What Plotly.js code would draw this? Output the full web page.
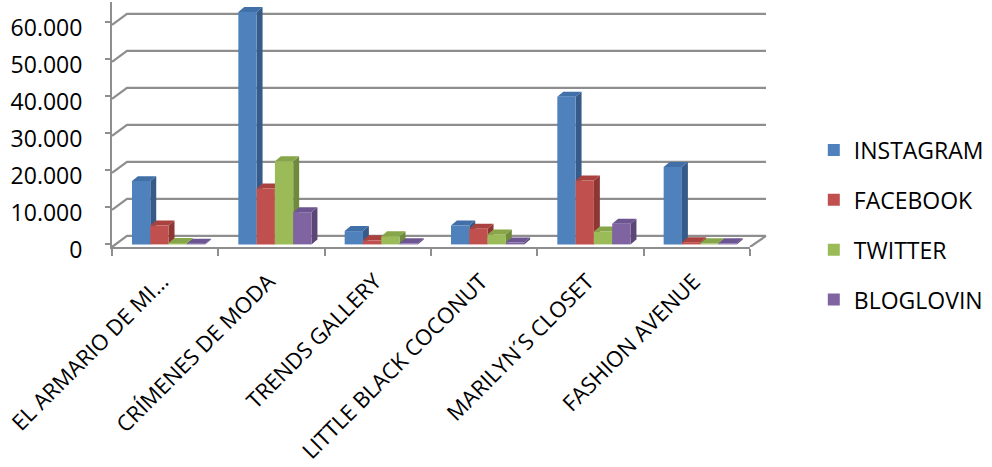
<!DOCTYPE html>
<html>
<head>
<meta charset="utf-8">
<script src="https://cdn.plot.ly/plotly-3.0.1.min.js"></script>
<style>html,body{margin:0;padding:0;background:#fff;}#chart{width:992px;height:467px;}</style>
</head>
<body>
<div id="chart"></div>
<script>
// ---- data ----
const categories = ["EL ARMARIO DE MI...", "CRÍMENES DE MODA", "TRENDS GALLERY", "LITTLE BLACK COCONUT", "MARILYN´S CLOSET", "FASHION AVENUE"];
const instagram = [17100, 62800, 3600, 5100, 39900, 20900];
const facebook  = [5100, 15100, 1100, 4200, 17300, 600];
const twitter   = [400, 22500, 2200, 2700, 3500, 300];
const bloglovin = [200, 8700, 300, 500, 5600, 300];
const seriesNames = ["INSTAGRAM", "FACEBOOK", "TWITTER", "BLOGLOVIN"];
const yTickVals = [0, 10000, 20000, 30000, 40000, 50000, 60000];

// ---- styles ----
const frontColors = ["#4F81BD", "#C0504D", "#9BBB59", "#8064A2"];
const sideColors  = ["#365B88", "#8E3634", "#6F8A3C", "#5B4677"];
const topColors   = ["#416FA8", "#A9413E", "#87A64A", "#6D5592"];
const gridColor = "#8E8E8E";
const font = "'Open Sans', 'Noto Sans', sans-serif";

const allSeries = [instagram, facebook, twitter, bloglovin];
const barW = 0.172;           // bar width in category units
const groupStart = -0.312;    // left edge of first bar relative to category centre
const depthX = 0.056;         // 3D depth offset (category units)
const depthY = 1350;          // 3D depth offset (value units)
const wallX = 15 / 638;       // back wall offset (paper units)
const wallY = 3000;           // back wall offset (value units)
const floorY = -700;          // front edge of floor

const traces = allSeries.map((vals, k) => ({
  type: "bar",
  name: seriesNames[k],
  x: categories,
  y: vals,
  width: categories.map(() => barW),
  offset: categories.map(() => groupStart + k * barW),
  marker: {color: frontColors[k], line: {width: 0}},
  legendgroup: "g" + k,
  hoverinfo: "skip"
}));

const shapes = [];
// back wall gridlines with diagonal from the axis
yTickVals.forEach(v => {
  shapes.push({
    type: "path", xref: "paper", yref: "y", layer: "below",
    path: `M 0 ${v + floorY} L ${wallX} ${v + floorY + wallY} L ${1 + 16/638} ${v + floorY + wallY}`,
    line: {color: gridColor, width: 2.2}
  });
});
// right edge of floor
shapes.push({
  type: "path", xref: "paper", yref: "y", layer: "below",
  path: `M 1 ${floorY} L ${1 + 16/638} ${floorY + wallY}`,
  line: {color: gridColor, width: 2.2}
});
// 3D side and top faces of each bar, computed from the data
categories.forEach((c, j) => {
  allSeries.forEach((vals, k) => {
    const v = vals[j];
    const xL = j + groupStart + k * barW;
    const xR = xL + barW;
    shapes.push({
      type: "path", xref: "x", yref: "y", layer: "below",
      path: `M ${xR} 0 L ${xR + depthX} ${depthY} L ${xR + depthX} ${v + depthY} L ${xR} ${v} Z`,
      fillcolor: sideColors[k], line: {width: 0}
    });
    shapes.push({
      type: "path", xref: "x", yref: "y", layer: "below",
      path: `M ${xL} ${v} L ${xL + depthX} ${v + depthY} L ${xR + depthX} ${v + depthY} L ${xR} ${v} Z`,
      fillcolor: topColors[k], line: {width: 0}
    });
  });
});

const layout = {
  width: 992, height: 467,
  margin: {l: 112, r: 242, t: 2, b: 220},
  paper_bgcolor: "#fff", plot_bgcolor: "rgba(0,0,0,0)",
  separators: ",.",
  barmode: "group",
  showlegend: true,
  font: {family: font, color: "#000", size: 23},
  xaxis: {
    type: "category",
    range: [-0.5, 5.5],
    showgrid: false, zeroline: false,
    showline: true, linecolor: gridColor, linewidth: 2,
    ticks: "outside", tickson: "boundaries", ticklen: 7, tickwidth: 2, tickcolor: gridColor,
    tickangle: -45,
    tickfont: {family: font, size: 22, color: "#000"},
    ticklabelstandoff: 11,
    ticklabelshift: -3
  },
  yaxis: {
    range: [-700, 65500],
    tickvals: yTickVals,
    tickformat: ",.0f",
    showgrid: false, zeroline: false,
    showline: true, linecolor: gridColor, linewidth: 2,
    ticks: "outside", ticklen: 5, tickwidth: 2, tickcolor: gridColor,
    tickfont: {family: font, size: 23, color: "#000"},
    ticklabelstandoff: 18,
    ticklabelshift: 6
  },
  legend: {
    x: 1.1, xanchor: "left", y: 0.09, yanchor: "middle",
    font: {family: font, size: 23, color: "#000"},
    tracegroupgap: 17,
    bgcolor: "rgba(0,0,0,0)"
  },
  shapes: shapes
};

Plotly.newPlot("chart", traces, layout, {displayModeBar: false, staticPlot: true});
</script>
</body>
</html>
